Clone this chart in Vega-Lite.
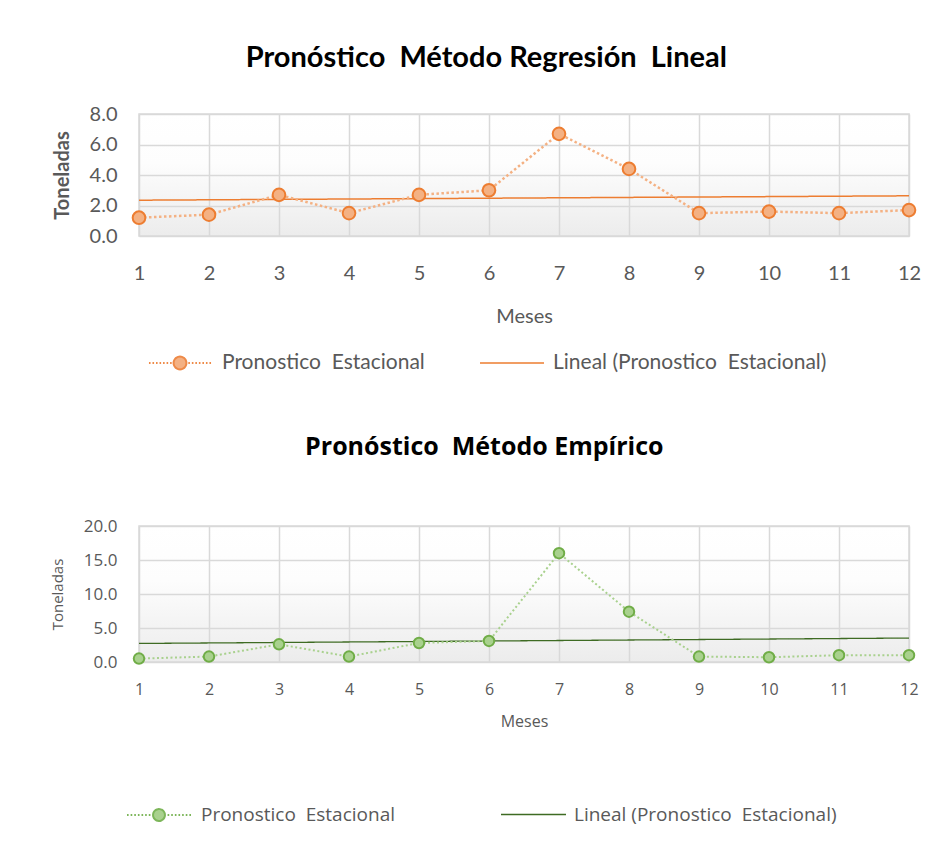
{
  "$schema": "https://vega.github.io/schema/vega-lite/v6.json",
  "background": "white",
  "padding": {"left": 49, "top": 43, "right": 5, "bottom": 5},
  "spacing": 59,
  "datasets": {
    "regresion": [
      {"mes": 1, "valor": 1.2, "serie": "Pronostico\u00a0 Estacional"},
      {"mes": 2, "valor": 1.4, "serie": "Pronostico\u00a0 Estacional"},
      {"mes": 3, "valor": 2.7, "serie": "Pronostico\u00a0 Estacional"},
      {"mes": 4, "valor": 1.5, "serie": "Pronostico\u00a0 Estacional"},
      {"mes": 5, "valor": 2.7, "serie": "Pronostico\u00a0 Estacional"},
      {"mes": 6, "valor": 3.0, "serie": "Pronostico\u00a0 Estacional"},
      {"mes": 7, "valor": 6.7, "serie": "Pronostico\u00a0 Estacional"},
      {"mes": 8, "valor": 4.4, "serie": "Pronostico\u00a0 Estacional"},
      {"mes": 9, "valor": 1.5, "serie": "Pronostico\u00a0 Estacional"},
      {"mes": 10, "valor": 1.6, "serie": "Pronostico\u00a0 Estacional"},
      {"mes": 11, "valor": 1.5, "serie": "Pronostico\u00a0 Estacional"},
      {"mes": 12, "valor": 1.7, "serie": "Pronostico\u00a0 Estacional"}
    ],
    "empirico": [
      {"mes": 1, "valor": 0.5, "serie": "Pronostico\u00a0 Estacional"},
      {"mes": 2, "valor": 0.8, "serie": "Pronostico\u00a0 Estacional"},
      {"mes": 3, "valor": 2.6, "serie": "Pronostico\u00a0 Estacional"},
      {"mes": 4, "valor": 0.8, "serie": "Pronostico\u00a0 Estacional"},
      {"mes": 5, "valor": 2.8, "serie": "Pronostico\u00a0 Estacional"},
      {"mes": 6, "valor": 3.1, "serie": "Pronostico\u00a0 Estacional"},
      {"mes": 7, "valor": 16.0, "serie": "Pronostico\u00a0 Estacional"},
      {"mes": 8, "valor": 7.4, "serie": "Pronostico\u00a0 Estacional"},
      {"mes": 9, "valor": 0.8, "serie": "Pronostico\u00a0 Estacional"},
      {"mes": 10, "valor": 0.7, "serie": "Pronostico\u00a0 Estacional"},
      {"mes": 11, "valor": 1.0, "serie": "Pronostico\u00a0 Estacional"},
      {"mes": 12, "valor": 1.0, "serie": "Pronostico\u00a0 Estacional"}
    ]
  },
  "vconcat": [
    {
      "width": 770,
      "height": 122,
      "title": {"text": "Pronóstico\u00a0 Método Regresión\u00a0 Lineal", "font": "Lato", "fontSize": 29, "fontWeight": "bold", "color": "#000000", "anchor": "middle", "frame": "bounds", "offset": 31},
      "data": {"name": "regresion"},
      "encoding": {
        "x": {"field": "mes", "type": "quantitative", "scale": {"domain": [1, 12], "nice": false, "zero": false},
          "axis": {"values": [1,2,3,4,5,6,7,8,9,10,11,12], "format": "d", "title": "Meses", "labelFlush": false, "labelFont": "Lato", "labelFontSize": 20, "labelPadding": 27, "titleFont": "Lato", "titleFontSize": 20, "titleFontWeight": "normal", "titlePadding": 23, "grid": true}},
        "y": {"field": "valor", "type": "quantitative", "scale": {"domain": [0, 8], "nice": false},
          "axis": {"values": [0,2,4,6,8], "format": ".1f", "title": "Toneladas", "labelFlush": false, "labelFont": "Lato", "labelFontSize": 20, "labelPadding": 22, "titleFont": "Lato", "titleFontSize": 20, "titleFontWeight": "bold", "titlePadding": 17, "grid": true}}
      },
      "layer": [
        {"transform": [{"regression": "valor", "on": "mes", "extent": [1, 12]}],
         "mark": {"type": "line", "color": "#ED7D31", "strokeWidth": 1.5},
         "encoding": {
           "strokeDash": {"datum": "Lineal (Pronostico\u00a0 Estacional)", "type": "nominal",
             "scale": {"domain": ["Lineal (Pronostico\u00a0 Estacional)"], "range": [[1, 0]]},
             "legend": {"title": null, "orient": "none", "legendX": 340, "legendY": 216, "direction": "horizontal", "symbolType": "M-1,0L1,0", "symbolSize": 4096, "symbolStrokeColor": "#ED7D31", "symbolStrokeWidth": 1.5, "labelFont": "Lato", "labelFontSize": 21, "labelColor": "#595959", "labelOffset": 8, "labelLimit": 600, "padding": 0,
               "encode": {"symbols": {"update": {"shape": {"value": "M-1,0L1,0"}, "stroke": {"value": "#ED7D31"}, "strokeWidth": {"value": 1.5}, "strokeDash": {"value": [1, 0]}, "opacity": {"value": 1}}}}}
           }
         }},
        {"mark": {"type": "line", "color": "#F4B183", "strokeWidth": 2.5, "strokeDash": [2.5, 2.5]},
         "encoding": {
           "opacity": {"field": "serie", "type": "nominal",
             "scale": {"domain": ["Pronostico\u00a0 Estacional"], "range": [1]},
             "legend": {"title": null, "orient": "none", "legendX": 8, "legendY": 216, "direction": "horizontal", "symbolType": "M-0.97,0h0.05M-0.86,0h0.05M-0.75,0h0.05M-0.64,0h0.05M-0.53,0h0.05M-0.42,0h0.05M-0.31,0h0.05M0.26,0h0.05M0.37,0h0.05M0.48,0h0.05M0.59,0h0.05M0.7,0h0.05M0.81,0h0.05M0.92,0h0.05M-0.2,0a0.2,0.2 0 1,0 0.4,0a0.2,0.2 0 1,0 -0.4,0z", "symbolSize": 4096, "symbolFillColor": "#F4B183", "symbolStrokeColor": "#ED7D31", "symbolStrokeWidth": 2, "labelFont": "Lato", "labelFontSize": 21, "labelColor": "#595959", "labelOffset": 9, "labelLimit": 600, "padding": 0,
               "encode": {"symbols": {"update": {"fill": {"value": "#F4B183"}, "stroke": {"value": "#EE8A48"}, "strokeWidth": {"value": 2}, "strokeDash": {"value": [1, 0]}, "opacity": {"value": 1}}}}}
           }
         }},
        {"mark": {"type": "point", "filled": true, "fill": "#F4B183", "stroke": "#ED7D31", "strokeWidth": 2, "size": 160, "opacity": 1}}
      ]
    },
    {
      "width": 770,
      "height": 136,
      "title": {"text": "Pronóstico\u00a0 Método Empírico", "font": "Open Sans", "fontSize": 25, "fontWeight": "bold", "color": "#000000", "anchor": "middle", "frame": "bounds", "offset": 57},
      "data": {"name": "empirico"},
      "encoding": {
        "x": {"field": "mes", "type": "quantitative", "scale": {"domain": [1, 12], "nice": false, "zero": false},
          "axis": {"values": [1,2,3,4,5,6,7,8,9,10,11,12], "format": "d", "title": "Meses", "labelFlush": false, "labelFont": "Open Sans", "labelFontSize": 16, "labelPadding": 19, "titleFont": "Open Sans", "titleFontSize": 16, "titleFontWeight": "normal", "titlePadding": 16, "grid": true}},
        "y": {"field": "valor", "type": "quantitative", "scale": {"domain": [0, 20], "nice": false},
          "axis": {"values": [0,5,10,15,20], "format": ".1f", "title": "Toneladas", "labelFlush": false, "labelFont": "Open Sans", "labelFontSize": 17, "labelPadding": 22, "titleFont": "Open Sans", "titleFontSize": 15, "titleFontWeight": "normal", "titlePadding": 18, "grid": true}}
      },
      "layer": [
        {"transform": [{"regression": "valor", "on": "mes", "extent": [1, 12]}],
         "mark": {"type": "line", "color": "#3E6B23", "strokeWidth": 1.3},
         "encoding": {
           "strokeDash": {"datum": "Lineal (Pronostico\u00a0 Estacional)", "type": "nominal",
             "scale": {"domain": ["Lineal (Pronostico\u00a0 Estacional)"], "range": [[1, 0]]},
             "legend": {"title": null, "orient": "none", "legendX": 361, "legendY": 255, "direction": "horizontal", "symbolType": "M-1,0L1,0", "symbolSize": 4225, "symbolStrokeColor": "#3E6B23", "symbolStrokeWidth": 1.3, "labelFont": "Open Sans", "labelFontSize": 19, "labelColor": "#595959", "labelOffset": 7, "labelLimit": 600, "padding": 0,
               "encode": {"symbols": {"update": {"shape": {"value": "M-1,0L1,0"}, "stroke": {"value": "#3E6B23"}, "strokeWidth": {"value": 1.3}, "strokeDash": {"value": [1, 0]}, "opacity": {"value": 1}}}}}
           }
         }},
        {"mark": {"type": "line", "color": "#A9D18E", "strokeWidth": 2, "strokeDash": [2, 2.5]},
         "encoding": {
           "opacity": {"field": "serie", "type": "nominal",
             "scale": {"domain": ["Pronostico\u00a0 Estacional"], "range": [1]},
             "legend": {"title": null, "orient": "none", "legendX": -14, "legendY": 255, "direction": "horizontal", "symbolType": "M-0.97,0h0.05M-0.86,0h0.05M-0.75,0h0.05M-0.64,0h0.05M-0.53,0h0.05M-0.42,0h0.05M-0.31,0h0.05M0.26,0h0.05M0.37,0h0.05M0.48,0h0.05M0.59,0h0.05M0.7,0h0.05M0.81,0h0.05M0.92,0h0.05M-0.18,0a0.18,0.18 0 1,0 0.36,0a0.18,0.18 0 1,0 -0.36,0z", "symbolSize": 4356, "symbolFillColor": "#A9D18E", "symbolStrokeColor": "#70AD47", "symbolStrokeWidth": 2, "labelFont": "Open Sans", "labelFontSize": 19, "labelColor": "#595959", "labelOffset": 8, "labelLimit": 600, "padding": 0,
               "encode": {"symbols": {"update": {"fill": {"value": "#A9D18E"}, "stroke": {"value": "#7DB65A"}, "strokeWidth": {"value": 2}, "strokeDash": {"value": [1, 0]}, "opacity": {"value": 1}}}}}
           }
         }},
        {"mark": {"type": "point", "filled": true, "fill": "#A9D18E", "stroke": "#70AD47", "strokeWidth": 2, "size": 110, "opacity": 1}}
      ]
    }
  ],
  "resolve": {"scale": {"opacity": "independent", "strokeDash": "independent", "x": "independent", "y": "independent"}},
  "config": {
    "view": {"stroke": "#D9D9D9", "strokeWidth": 1.5,
      "fill": {"gradient": "linear", "x1": 0, "y1": 0, "x2": 0, "y2": 1, "stops": [{"offset": 0, "color": "#ffffff"}, {"offset": 0.4, "color": "#fdfdfd"}, {"offset": 1, "color": "#ececec"}]}},
    "axis": {"domain": false, "ticks": false, "gridColor": "#D9D9D9", "gridWidth": 1.5, "labelColor": "#595959", "titleColor": "#595959"}
  }
}
